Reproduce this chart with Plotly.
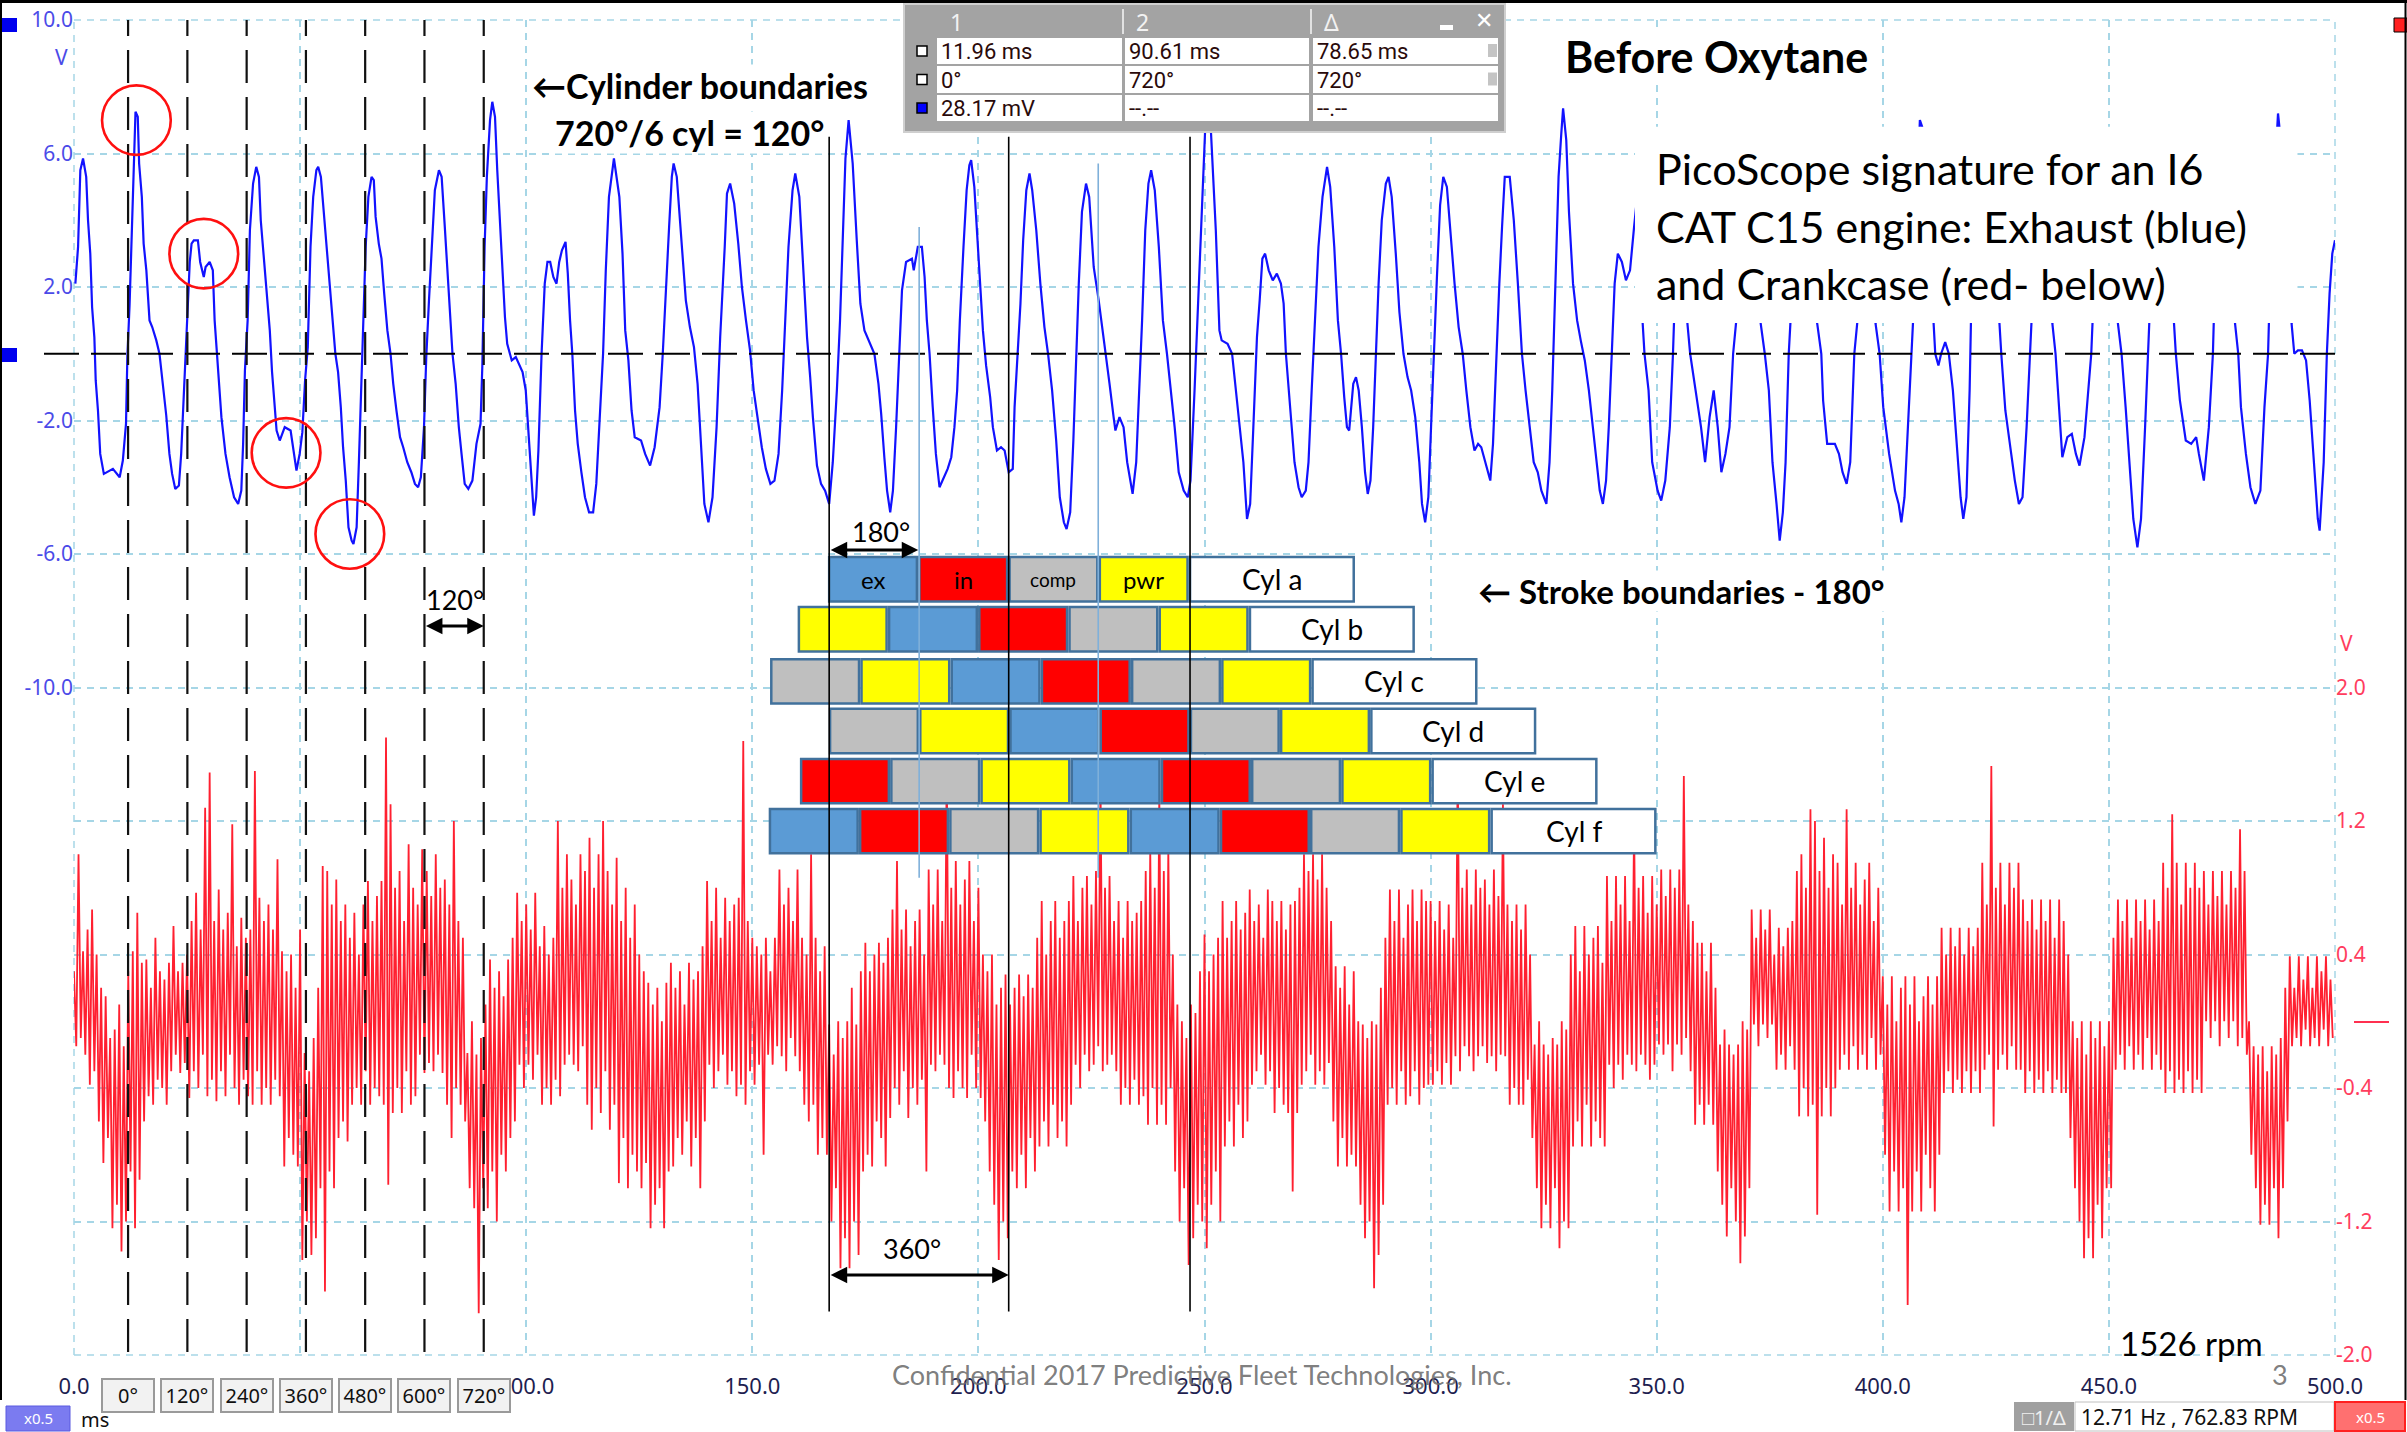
import plotly.graph_objects as go

# ---------------- data ----------------
# Exhaust pressure trace (blue), time in ms, volts on left axis
blue_t = [
    0.3, 0.9, 1.4, 2.0, 2.7, 3.1, 3.6, 4.0, 4.5, 4.8,
    5.3, 5.8, 6.6, 8.6, 10.1, 10.8, 11.5, 11.8, 12.3, 12.8,
    13.2, 13.6, 14.1, 14.4, 15.0, 15.4, 16.0, 16.7, 17.3, 18.2,
    18.9, 19.3, 19.8, 20.4, 21.1, 21.7, 22.4, 23.2, 23.7, 24.3,
    24.7, 25.2, 25.6, 26.0, 26.5, 27.4, 27.9, 28.7, 29.1, 30.0,
    30.7, 31.1, 31.6, 32.2, 32.6, 33.5, 34.4, 35.4, 36.3, 37.0,
    37.4, 37.8, 38.4, 38.9, 39.6, 40.3, 40.9, 41.3, 42.0, 42.7,
    43.3, 43.8, 44.4, 44.8, 45.5, 46.6, 47.9, 48.5, 49.2, 49.9,
    50.5, 51.1, 51.7, 52.3, 52.9, 53.6, 54.0, 54.6, 55.2, 55.8,
    56.4, 57.1, 57.8, 58.4, 59.0, 59.5, 60.1, 60.7, 61.4, 61.8,
    62.5, 63.0, 63.5, 63.9, 64.5, 65.1, 65.8, 66.3, 66.7, 67.4,
    68.0, 68.6, 69.3, 70.0, 70.6, 71.3, 72.1, 72.8, 73.7, 74.6,
    75.4, 76.1, 76.7, 77.4, 77.9, 78.5, 79.1, 79.8, 80.7, 81.3,
    82.0, 82.6, 83.1, 83.7, 84.4, 85.1, 85.7, 86.4, 87.2, 88.1,
    89.0, 89.9, 90.3, 90.8, 91.3, 92.0, 92.5, 93.1, 93.6, 94.2,
    94.8, 95.3, 95.8, 96.4, 96.8, 97.7, 98.6, 99.2, 99.9, 100.6,
    101.2, 101.7, 102.2, 102.7, 103.4, 104.1, 104.7, 105.3, 106.0, 106.7,
    107.3, 107.9, 108.7, 109.2, 109.7, 110.2, 110.8, 111.4, 112.2, 113.0,
    113.9, 114.8, 115.5, 116.1, 117.0, 117.6, 118.3, 119.4, 120.6, 121.3,
    121.9, 122.6, 123.3, 124.0, 125.4, 126.3, 127.4, 128.4, 129.5, 130.2,
    130.9, 131.6, 132.2, 132.6, 133.3, 133.7, 134.6, 135.3, 136.2, 137.1,
    137.9, 138.8, 139.4, 140.3, 141.2, 142.1, 142.9, 143.9, 144.4, 145.1,
    146.0, 146.9, 147.7, 148.6, 149.5, 150.3, 151.2, 152.1, 153.0, 154.0,
    154.9, 155.8, 156.6, 157.3, 158.0, 158.9, 159.5, 160.4, 161.3, 162.1,
    162.8, 163.4, 164.3, 165.2, 166.1, 167.0, 167.8, 168.7, 169.4, 170.0,
    170.6, 171.3, 172.2, 173.1, 173.9, 174.8, 176.1, 177.0, 177.9, 178.5,
    179.2, 179.8, 180.5, 181.1, 181.8, 182.5, 183.1, 184.0, 185.3, 185.7,
    186.6, 187.5, 188.1, 188.6, 189.2, 189.9, 190.6, 191.4, 192.3, 193.2,
    194.0, 194.7, 195.3, 195.9, 196.7, 197.4, 198.0, 198.4, 199.1, 199.7,
    200.3, 201.0, 201.7, 202.6, 203.2, 204.1, 205.0, 205.8, 206.7, 207.6,
    208.0, 208.7, 209.3, 209.9, 210.6, 211.3, 211.9, 212.8, 213.7, 214.6,
    215.4, 216.3, 217.2, 218.0, 218.9, 219.5, 220.3, 221.0, 221.6, 222.2,
    222.9, 223.8, 224.5, 225.5, 226.6, 227.5, 228.1, 229.0, 229.9, 230.3,
    231.2, 232.1, 232.9, 234.1, 234.9, 235.6, 236.2, 236.9, 237.6, 238.2,
    239.0, 239.9, 240.8, 241.7, 242.6, 243.4, 244.3, 245.4, 246.3, 246.9,
    247.8, 248.7, 249.6, 250.2, 250.7, 251.3, 252.5, 253.3, 253.8, 255.1,
    256.1, 256.8, 257.7, 258.6, 259.4, 260.1, 260.8, 261.6, 262.2, 262.8,
    263.4, 264.2, 265.1, 266.0, 266.9, 267.5, 268.0, 268.6, 269.2, 269.9,
    270.8, 271.5, 272.4, 273.0, 273.7, 274.5, 275.2, 276.1, 276.8, 277.1,
    277.8, 278.7, 279.5, 280.2, 280.9, 281.5, 282.0, 282.9, 283.5, 284.1,
    284.8, 285.5, 286.1, 286.7, 287.3, 287.9, 288.5, 289.2, 290.1, 290.7,
    291.4, 292.3, 293.1, 294.0, 294.9, 295.7, 296.6, 297.5, 298.1, 298.8,
    299.5, 300.1, 300.7, 301.4, 302.1, 302.8, 303.6, 304.4, 305.3, 306.2,
    307.1, 307.9, 308.8, 309.7, 310.5, 311.2, 312.1, 313.2, 313.8, 314.5,
    315.2, 315.8, 316.4, 317.5, 318.4, 319.3, 320.2, 321.0, 321.9, 322.8,
    323.7, 324.5, 325.6, 326.3, 326.9, 327.6, 328.3, 328.9, 329.3, 330.0,
    330.6, 331.5, 332.4, 333.2, 334.1, 335.0, 335.9, 336.8, 337.4, 338.1,
    338.8, 339.4, 340.0, 340.7, 341.4, 342.3, 343.2, 344.1, 345.0, 345.6,
    346.2, 346.8, 347.3, 348.2, 349.0, 350.2, 351.0, 351.9, 352.9, 353.6,
    354.2, 355.0, 355.6, 356.4, 357.4, 358.6, 359.8, 360.7, 361.7, 362.6,
    363.5, 364.3, 365.2, 366.1, 366.9, 367.6, 368.5, 369.3, 370.2, 371.2,
    372.2, 373.0, 373.9, 374.8, 375.6, 376.5, 377.2, 377.9, 378.5, 379.2,
    379.6, 380.4, 381.3, 382.0, 382.8, 383.8, 384.8, 385.5, 386.4, 386.8,
    387.7, 389.4, 390.3, 391.1, 392.0, 392.8, 393.7, 394.4, 395.2, 396.0,
    396.8, 397.6, 398.4, 399.3, 400.1, 401.4, 402.7, 403.5, 404.1, 404.8,
    405.6, 406.3, 406.7, 407.4, 408.2, 408.7, 409.3, 410.2, 411.2, 411.6,
    412.3, 412.9, 413.8, 414.6, 415.5, 416.4, 417.2, 417.8, 418.5, 419.2,
    419.5, 420.5, 421.5, 422.4, 423.3, 424.5, 425.8, 426.2, 427.1, 428.4,
    429.2, 430.1, 430.9, 431.8, 432.6, 432.9, 433.8, 434.6, 435.4, 436.3,
    437.5, 438.2, 438.9, 439.7, 440.8, 441.8, 442.7, 443.5, 444.6, 445.5,
    446.1, 446.4, 447.3, 448.2, 449.0, 449.9, 451.0, 452.0, 452.8, 453.7,
    454.7, 455.4, 456.3, 457.1, 458.0, 458.7, 459.0, 459.9, 460.8, 461.7,
    462.6, 463.6, 464.4, 464.8, 465.7, 467.0, 468.2, 469.3, 469.9, 471.0,
    472.1, 473.0, 473.2, 474.1, 475.0, 475.8, 476.7, 477.9, 478.6, 479.2,
    480.3, 481.3, 482.4, 483.5, 484.4, 485.2, 485.4, 486.3, 487.4, 488.3,
    489.2, 490.0, 490.4, 491.0, 491.8, 492.7, 493.6, 494.4, 495.3, 496.2,
    496.6, 497.5, 498.2, 498.8, 499.4, 500.0,
]
blue_v = [
    2.1, 3.2, 5.5, 5.85, 5.3, 4.0, 3.0, 1.4, 0.5, -0.8,
    -1.7, -3.0, -3.6, -3.45, -3.7, -3.2, -2.1, -0.1, 1.5, 4.0,
    5.5, 7.25, 7.1, 5.7, 4.7, 3.3, 2.5, 1.0, 0.8, 0.4,
    0.0, -0.5, -1.3, -1.85, -3.0, -3.6, -4.05, -3.95, -3.0, -1.1,
    0.0, 1.5, 2.75, 3.3, 3.4, 3.4, 2.75, 2.3, 2.6, 2.75,
    2.5, 1.0, 0.0, -0.9, -1.9, -3.0, -3.7, -4.3, -4.5, -4.1,
    -2.7, -0.5, 1.0, 3.7, 5.1, 5.6, 5.3, 4.0, 2.85, 1.8,
    0.7, -0.55, -1.6, -2.3, -2.6, -2.2, -2.3, -2.8, -3.5, -3.0,
    -2.35, -0.8, 0.2, 3.2, 4.7, 5.5, 5.6, 5.3, 4.35, 3.3,
    2.3, 1.25, 0.0, -0.55, -1.6, -2.8, -3.8, -5.2, -5.6, -5.7,
    -5.2, -3.25, -1.1, 0.0, 3.2, 4.7, 5.3, 5.2, 4.1, 3.3,
    2.85, 1.8, 0.7, 0.0, -0.9, -1.7, -2.5, -2.8, -3.25, -3.55,
    -3.9, -4.0, -3.7, -2.2, -0.1, 1.6, 3.0, 4.9, 5.5, 5.3,
    3.8, 2.5, 1.1, 0.0, -0.9, -2.2, -3.0, -3.9, -4.05, -3.8,
    -2.7, -2.1, -0.35, 3.2, 5.3, 7.0, 7.55, 7.1, 5.5, 3.8,
    2.5, 1.1, 0.3, 0.0, -0.2, -0.1, -0.35, -0.55, -1.1, -2.6,
    -3.8, -4.85, -4.3, -2.9, 0.0, 2.1, 2.75, 2.75, 2.3, 2.1,
    2.75, 3.1, 3.35, 2.4, 1.0, 0.0, -1.7, -2.7, -3.55, -4.3,
    -4.75, -4.75, -3.9, -2.2, 0.0, 2.5, 4.7, 5.85, 4.7, 3.0,
    0.7, -0.2, -1.7, -2.5, -2.6, -3.0, -3.35, -2.8, -1.6, 0.0,
    2.1, 3.8, 5.3, 5.7, 5.3, 4.5, 2.75, 1.6, 0.8, 0.2,
    -0.9, -2.9, -4.5, -5.05, -4.3, -2.2, 0.5, 3.2, 4.8, 5.1,
    4.5, 3.3, 2.0, 1.0, 0.1, -1.1, -1.9, -2.8, -3.45, -3.9,
    -3.8, -3.0, -1.1, 1.0, 3.2, 4.9, 5.4, 4.7, 2.5, 0.5,
    -0.7, -1.9, -3.35, -3.9, -4.1, -4.5, -3.25, -1.1, 1.0, 3.8,
    5.85, 7.0, 5.7, 3.4, 1.5, 0.7, 0.3, 0.0, -0.9, -1.8,
    -3.1, -4.1, -4.75, -4.1, -2.2, 0.0, 1.9, 2.75, 2.85, 2.5,
    3.2, 3.2, 2.3, 1.0, 0.0, -1.6, -3.0, -4.0, -3.7, -3.45,
    -3.1, -2.2, -1.1, 1.0, 3.2, 4.9, 5.65, 5.8, 5.0, 3.7,
    2.1, 0.7, -0.35, -1.3, -2.2, -2.9, -2.8, -2.9, -3.55, -3.45,
    -1.6, 0.0, 1.5, 3.4, 4.9, 5.4, 4.9, 3.7, 2.1, 0.8,
    0.0, -1.1, -2.6, -4.3, -5.05, -5.25, -4.75, -2.6, 0.0, 2.1,
    4.25, 5.1, 4.7, 2.6, 1.6, 0.7, 0.0, -0.9, -1.9, -2.3,
    -1.9, -2.2, -3.25, -4.2, -3.25, -1.1, 1.0, 3.7, 5.1, 5.5,
    4.9, 3.2, 1.0, 0.0, -1.1, -2.2, -3.55, -4.1, -4.3, -3.8,
    -1.1, 2.1, 4.8, 6.9, 7.8, 7.0, 3.7, 0.7, 0.4, 0.3,
    0.0, -0.9, -2.2, -3.25, -4.95, -4.5, -2.2, 0.5, 1.6, 2.85,
    3.0, 2.5, 2.2, 2.4, 2.1, 1.5, 0.0, -1.1, -2.2, -3.25,
    -4.0, -4.3, -4.1, -3.25, -1.1, 1.0, 3.2, 4.7, 5.3, 5.6,
    5.0, 3.2, 1.0, 0.0, -1.3, -2.2, -2.3, -0.9, -0.7, -1.1,
    -2.2, -3.55, -4.2, -3.8, -2.2, 0.0, 2.1, 4.0, 5.1, 5.3,
    4.7, 3.0, 1.25, 0.0, -0.7, -1.1, -1.9, -3.25, -4.5, -5.05,
    -4.3, -2.2, 0.0, 2.3, 4.45, 5.3, 5.0, 3.6, 2.1, 0.8,
    0.0, -1.1, -2.2, -2.9, -2.7, -2.8, -3.25, -3.8, -2.7, 0.0,
    2.1, 3.8, 5.3, 5.3, 4.0, 2.1, 0.0, -1.1, -2.2, -3.25,
    -3.55, -4.1, -4.5, -3.25, -1.1, 2.1, 5.3, 6.6, 7.35, 6.4,
    4.25, 2.1, 1.0, 0.4, -0.2, -1.1, -2.2, -3.25, -4.1, -4.5,
    -3.8, -2.2, 0.0, 2.1, 3.0, 2.75, 2.2, 2.5, 3.8, 4.6,
    2.5, 0.9, 0.0, -1.1, -3.25, -4.1, -4.4, -3.8, -2.2, 0.0,
    2.5, 4.5, 4.0, 1.5, 0.0, -1.1, -2.2, -3.25, -1.9, -1.1,
    -2.2, -3.55, -3.0, -2.2, 0.0, 1.0, 4.0, 5.5, 5.3, 3.5,
    1.8, 0.9, 0.0, -1.1, -3.25, -4.5, -5.6, -4.75, -3.25, 0.0,
    1.0, 3.8, 5.6, 5.7, 4.5, 2.5, 1.3, 0.9, 0.0, -1.4,
    -2.7, -2.7, -3.0, -3.55, -3.9, -3.25, 0.0, 1.0, 3.5, 5.2,
    5.0, 3.0, 0.9, 0.0, -1.6, -3.0, -4.1, -4.5, -5.05, -4.3,
    -2.2, 0.0, 1.0, 4.0, 7.0, 6.8, 6.0, 3.5, 0.9, 0.0,
    -0.35, 0.0, 0.35, 0.0, -1.1, -2.7, -4.3, -4.95, -4.3, -1.1,
    1.0, 3.8, 5.4, 5.6, 4.5, 2.5, 0.9, 0.0, -1.7, -3.0,
    -3.8, -4.5, -4.3, -2.2, 0.0, 1.0, 4.0, 5.4, 5.5, 3.5,
    0.9, 0.0, -1.4, -3.1, -2.5, -2.4, -3.0, -3.35, -2.5, -1.1,
    0.0, 1.0, 4.0, 5.5, 5.6, 4.0, 2.0, 0.9, 0.0, -1.6,
    -3.55, -4.95, -5.8, -4.95, -2.2, 0.0, 1.0, 4.2, 5.5, 5.3,
    3.5, 1.8, 0.9, 0.0, -1.4, -2.6, -2.7, -2.5, -3.0, -3.8,
    -2.2, 0.0, 1.0, 4.0, 5.5, 5.6, 3.8, 0.9, 0.0, -1.6,
    -3.0, -4.0, -4.5, -4.1, -1.6, 0.0, 1.0, 4.5, 7.2, 6.0,
    3.5, 1.5, 0.9, 0.0, 0.1, 0.1, -0.2, -1.4, -3.25, -4.95,
    -5.3, -3.25, 0.0, 1.8, 3.0, 3.4,
]

# Crankcase pressure trace (red), right axis volts: per-ms upper / lower excursions
red_t0_ms = 0.0
red_step_ms = 1.0
red_hi = [
    0.30, 1.00, 0.42, 0.55, 0.67, 0.40, 0.20, 0.15, -0.10, -0.05,
    0.10, -0.15, 0.30, 0.42, 0.65, 0.35, 0.37, 0.20, 0.50, 0.30,
    0.25, 0.35, 0.57, 0.30, 0.35, 0.40, 0.60, 0.77, 0.55, 1.28,
    1.49, 0.60, 0.79, 0.55, 0.65, 1.18, 0.45, 0.62, 0.50, 0.55,
    1.50, 0.74, 0.60, 0.70, 0.55, 0.97, 0.42, 0.30, 0.40, 0.20,
    0.55, -0.19, -0.30, -0.10, 0.20, 0.93, 0.90, 0.70, 0.85, 0.60,
    0.70, 0.50, 0.65, 0.40, 0.70, 0.84, 0.60, 0.75, 0.84, 1.70,
    1.30, 0.80, 0.90, 0.60, 1.06, 0.80, 0.70, 1.03, 0.90, 0.75,
    1.00, 0.80, 0.85, 0.70, 1.20, 0.60, 0.50, -0.19, 0.00, -0.20,
    -0.10, 0.10, 0.37, 0.20, 0.30, 0.15, 0.37, 0.50, 0.77, 0.60,
    0.70, 0.55, 0.77, 0.45, 0.57, 0.40, 0.50, 1.20, 0.80, 1.00,
    0.85, 0.70, 1.00, 0.90, 1.10, 0.80, 1.00, 1.20, 0.90, 0.70,
    0.98, 0.60, 0.80, 0.50, 0.70, 0.40, 0.30, 0.23, 0.10, 0.20,
    0.00, 0.23, 0.35, 0.20, 0.30, 0.10, 0.35, 0.25, 0.30, 0.45,
    0.84, 0.60, 0.80, 0.50, 0.74, 0.60, 0.70, 0.74, 1.68, 0.60,
    0.50, 0.45, 0.40, 0.50, 0.30, 0.50, 0.91, 0.70, 0.80, 0.60,
    0.91, 0.50, 0.40, 1.00, 0.50, 0.30, 0.45, -0.02, -0.20, 0.00,
    -0.10, 0.00, 0.20, -0.02, 0.30, 0.47, 0.30, 0.40, 0.47, 0.35,
    0.50, 0.67, 0.96, 0.55, 0.67, 0.45, 0.60, 0.67, 0.40, 0.91,
    0.70, 0.91, 0.60, 1.57, 0.80, 0.96, 0.70, 0.85, 0.96, 0.60,
    0.80, 0.40, 0.30, 0.40, 0.10, 0.20, 0.28, 0.10, 0.20, 0.28,
    0.15, 0.28, 0.20, 0.50, 0.72, 0.40, 0.60, 0.72, 0.50, 0.60,
    0.72, 0.87, 0.60, 0.80, 0.87, 0.70, 0.90, 1.45, 0.80, 0.87,
    0.60, 0.72, 0.50, 0.72, 0.60, 0.65, 0.72, 0.90, 1.03, 0.80,
    1.38, 0.90, 1.03, 0.40, 0.10, 0.00, -0.10, 0.10, 0.05, 0.30,
    0.52, 0.30, 0.40, 0.50, 0.72, 0.50, 0.60, 0.72, 0.55, 0.65,
    0.79, 0.60, 0.70, 0.50, 0.79, 0.72, 0.60, 0.72, 0.55, 0.70,
    0.72, 0.80, 1.00, 0.90, 1.00, 0.85, 1.00, 0.80, 0.60, 0.33,
    0.20, 0.33, 0.10, 0.30, 0.00, -0.02, -0.10, 0.00, -0.02, 0.20,
    0.50, 0.79, 0.60, 0.79, 0.50, 0.70, 0.79, 0.60, 0.79, 0.72,
    0.72, 0.60, 0.72, 0.55, 0.70, 0.50, 1.56, 0.80, 0.91, 0.70,
    0.91, 0.80, 0.85, 0.70, 0.91, 0.75, 1.30, 0.70, 0.60, 0.70,
    0.55, 0.70, 0.40, -0.14, 0.00, -0.14, -0.20, -0.10, -0.14, 0.00,
    -0.05, 0.40, 0.57, 0.30, 0.57, 0.40, 0.50, 0.57, 0.35, 0.87,
    0.60, 0.87, 0.70, 0.87, 0.60, 1.20, 0.80, 0.87, 0.65, 0.87,
    0.70, 0.91, 0.75, 0.91, 0.80, 0.91, 1.47, 0.70, 0.60, 0.47,
    0.47, 0.30, 0.47, 0.20, -0.14, -0.05, -0.14, -0.20, -0.14, 0.00,
    -0.05, 0.67, 0.50, 0.67, 0.55, 0.67, 0.40, 0.56, 0.45, 0.56,
    0.60, 0.90, 1.00, 0.80, 1.27, 1.20, 0.90, 1.10, 0.80, 1.00,
    0.95, 0.70, 1.27, 0.80, 0.95, 0.70, 0.85, 0.95, 0.60, 0.80,
    0.27, 0.10, 0.27, 0.00, 0.20, 0.27, 0.10, 0.27, 0.00, 0.15,
    0.27, 0.10, 0.27, 0.56, 0.40, 0.56, 0.45, 0.56, 0.40, 0.56,
    0.45, 0.56, 0.95, 0.70, 1.53, 0.80, 0.95, 0.70, 0.95, 0.80,
    0.95, 0.73, 0.60, 0.73, 0.55, 0.73, 0.60, 0.73, 0.50, 0.73,
    0.60, 0.40, 0.00, -0.10, 0.00, -0.20, 0.00, -0.10, 0.00, -0.15,
    0.00, 0.50, 0.73, 0.60, 0.73, 0.50, 0.73, 0.60, 0.73, 0.55,
    0.73, 0.60, 0.95, 0.80, 1.24, 0.95, 0.70, 0.95, 0.80, 0.95,
    0.80, 0.90, 0.70, 0.90, 0.75, 0.90, 0.70, 0.90, 0.80, 1.15,
    0.90, 0.00, -0.15, -0.20, -0.15, -0.30, -0.15, -0.20, -0.10, 0.20,
    0.39, 0.20, 0.39, 0.25, 0.39, 0.20, 0.39, 0.30, 0.39, 0.25,
]
red_lo = [
    -0.15, -0.10, -0.20, -0.38, -0.30, -0.60, -0.85, -0.70, -1.24, -1.10,
    -1.38, -1.20, -0.90, -1.24, -0.95, -0.60, -0.45, -0.50, -0.35, -0.40,
    -0.50, -0.30, -0.20, -0.31, -0.25, -0.46, -0.30, -0.40, -0.20, -0.45,
    -0.35, -0.48, -0.30, -0.45, -0.20, -0.40, -0.50, -0.35, -0.45, -0.50,
    -0.30, -0.50, -0.40, -0.50, -0.35, -0.45, -0.87, -0.70, -0.80, -0.87,
    -1.43, -1.20, -1.40, -1.30, -1.00, -1.62, -0.90, -1.00, -0.70, -0.60,
    -0.72, -0.50, -0.40, -0.50, -0.30, -0.50, -0.40, -0.45, -0.50, -0.98,
    -0.55, -0.40, -0.55, -0.30, -0.50, -0.45, -0.20, -0.31, -0.25, -0.30,
    -0.20, -0.31, -0.50, -0.70, -0.40, -0.50, -0.60, -1.00, -1.12, -1.75,
    -1.00, -1.12, -0.90, -1.20, -0.80, -0.90, -0.70, -0.60, -0.26, -0.40,
    -0.26, -0.35, -0.20, -0.50, -0.40, -0.50, -0.35, -0.45, -0.26, -0.20,
    -0.26, -0.30, -0.15, -0.50, -0.65, -0.40, -0.55, -0.30, -0.65, -0.50,
    -0.97, -0.70, -1.00, -0.80, -0.90, -1.00, -0.85, -1.24, -1.10, -1.00,
    -1.24, -0.90, -0.87, -0.70, -0.80, -0.60, -0.87, -0.70, -1.00, -0.60,
    -0.26, -0.40, -0.30, -0.20, -0.38, -0.30, -0.45, -0.38, -0.50, -0.30,
    -0.38, -0.26, -0.80, -0.20, -0.26, -0.15, -0.21, -0.30, -0.10, -0.21,
    -0.30, -0.50, -0.60, -0.50, -0.80, -0.70, -0.80, -1.20, -1.00, -1.48,
    -1.30, -1.48, -1.20, -1.40, -0.90, -0.80, -0.87, -0.60, -0.70, -0.87,
    -0.58, -0.40, -0.50, -0.30, -0.58, -0.40, -0.50, -0.35, -0.90, -0.26,
    -0.30, -0.20, -0.26, -0.40, -0.46, -0.30, -0.40, -0.46, -0.20, -0.40,
    -0.46, -0.60, -0.90, -1.10, -1.43, -1.20, -1.30, -0.90, -1.00, -0.80,
    -1.00, -0.70, -0.90, -0.75, -0.60, -0.75, -0.50, -0.70, -0.60, -0.75,
    -0.50, -0.26, -0.40, -0.20, -0.30, -0.26, -0.15, -0.30, -0.26, -0.20,
    -0.30, -0.50, -0.40, -0.50, -0.35, -0.50, -0.45, -0.62, -0.40, -0.62,
    -0.50, -0.62, -0.40, -0.90, -1.20, -1.00, -1.46, -1.30, -1.10, -1.20,
    -1.36, -1.10, -0.90, -1.20, -0.75, -0.60, -0.75, -0.50, -0.70, -0.60,
    -0.38, -0.30, -0.20, -0.38, -0.30, -0.55, -0.40, -0.50, -0.55, -1.02,
    -0.55, -0.38, -0.30, -0.20, -0.38, -0.30, -0.38, -0.25, -0.60, -0.87,
    -0.70, -0.87, -0.80, -0.87, -1.10, -1.30, -1.20, -1.60, -1.40, -1.10,
    -0.50, -0.40, -0.50, -0.30, -0.50, -0.45, -0.30, -0.50, -0.40, -0.38,
    -0.38, -0.30, -0.38, -0.25, -0.38, -0.21, -0.30, -0.15, -0.21, -0.30,
    -0.21, -0.15, -0.25, -0.21, -0.30, -0.20, -0.21, -0.50, -0.40, -0.50,
    -0.50, -0.35, -0.70, -1.00, -1.24, -1.10, -1.24, -1.00, -1.36, -1.20,
    -1.24, -0.75, -0.60, -0.75, -0.50, -0.75, -0.60, -0.70, -0.75, -0.26,
    -0.40, -0.26, -0.35, -0.20, -0.26, -0.30, -0.20, -0.26, -0.35, -0.26,
    -0.14, -0.20, -0.14, -0.30, -0.14, -0.20, -0.10, -0.30, -0.62, -0.50,
    -0.62, -0.50, -0.62, -0.90, -1.10, -1.29, -1.00, -1.20, -1.45, -1.29,
    -1.00, -0.02, -0.15, -0.02, -0.10, -0.02, -0.29, -0.20, -0.29, -0.15,
    -0.29, -0.57, -0.40, -0.57, -0.50, -1.16, -0.57, -0.40, -0.57, -0.40,
    -0.29, -0.20, -0.29, -0.15, -0.29, -0.20, -0.29, -0.10, -0.29, -0.20,
    -0.80, -1.14, -0.90, -1.14, -1.00, -1.70, -1.14, -0.90, -1.14, -0.80,
    -1.00, -1.14, -0.80, -0.43, -0.30, -0.43, -0.35, -0.43, -0.30, -0.43,
    -0.30, -0.43, -0.29, -0.20, -0.63, -0.29, -0.20, -0.29, -0.15, -0.29,
    -0.29, -0.43, -0.30, -0.43, -0.35, -0.43, -0.30, -0.43, -0.35, -0.43,
    -0.43, -0.70, -1.00, -1.20, -1.42, -1.30, -1.42, -1.10, -1.30, -1.00,
    -1.00, -0.29, -0.20, -0.29, -0.15, -0.29, -0.20, -0.29, -0.10, -0.29,
    -0.20, -0.29, -0.43, -0.30, -0.43, -0.35, -0.43, -0.30, -0.43, -0.35,
    -0.43, 0.00, -0.10, 0.00, -0.15, 0.00, -0.10, 0.00, -0.15, -0.10,
    -0.20, -0.80, -1.00, -1.22, -1.10, -1.22, -1.00, -1.30, -1.00, -0.60,
    -0.15, -0.10, -0.15, -0.05, -0.15, -0.10, -0.15, -0.05, -0.15, -0.10,
]

x_tick_ms = [0, 50, 100, 150, 200, 250, 300, 350, 400, 450, 500]
x_tick_txt = ['0.0', '50.0', '100.0', '150.0', '200.0', '250.0', '300.0', '350.0', '400.0', '450.0', '500.0']
left_tick_v = [10, 6, 2, -2, -6, -10, -14, -18, -22, -26, -30]
left_tick_txt = ['10.0', '6.0', '2.0', '-2.0', '-6.0', '-10.0', '', '', '', '', '']
right_tick_v = [2.0, 1.2, 0.4, -0.4, -1.2, -2.0]
right_tick_txt = ['2.0', '1.2', '0.4', '-0.4', '-1.2', '-2.0']

cyl_boundary_ms = [11.96, 25.07, 38.18, 51.29, 64.39, 77.50, 90.61]
cyl_boundary_deg = ['0°', '120°', '240°', '360°', '480°', '600°', '720°']
crank_360_ms = [167.0, 206.7, 246.8]
crank_180_ms = [186.9, 226.5]

cyl_names = ['Cyl a', 'Cyl b', 'Cyl c', 'Cyl d', 'Cyl e', 'Cyl f']
cyl_start_ms = [167.0, 160.3, 154.2, 167.2, 160.8, 153.9]
cyl_row_top_v = [-6.09, -7.59, -9.15, -10.64, -12.14, -13.64]
cyl_strokes = [
    ['ex', 'in', 'comp', 'pwr'],
    ['pwr', 'ex', 'in', 'comp', 'pwr'],
    ['comp', 'pwr', 'ex', 'in', 'comp', 'pwr'],
    ['comp', 'pwr', 'ex', 'in', 'comp', 'pwr'],
    ['in', 'comp', 'pwr', 'ex', 'in', 'comp', 'pwr'],
    ['ex', 'in', 'comp', 'pwr', 'ex', 'in', 'comp', 'pwr'],
]
stroke_colors = {'ex': '#5B9BD5', 'in': '#FF0000', 'comp': '#BFBFBF', 'pwr': '#FFFF00'}
stroke_pitch_ms = 19.95
stroke_box_ms = 19.4
label_box_ms = 36.2
row_h_v = 1.33

circle_ms = [13.8, 28.7, 46.9, 61.0]
circle_v = [7.0, 3.0, -2.97, -5.4]

cursor_header = ['1', '2', 'Δ']
cursor_rows = [['11.96 ms', '90.61 ms', '78.65 ms'],
               ['0°', '720°', '720°'],
               ['28.17 mV', '--.--', '--.--']]

# ---------------- figure geometry ----------------
W, H = 2407, 1432
ML, MR, MT, MB = 74, 72, 20, 77
PW = W - ML - MR
PH = H - MT - MB


def PX(x):
    return (x - ML) / PW


def PY(y):
    return 1 - (y - MT) / PH


SLIDE = 'Lato'
UI = 'Noto Sans'
GRID = '#A6D6E6'

fig = go.Figure()

red_x, red_y = [], []
for i in range(len(red_hi)):
    t = red_t0_ms + i * red_step_ms
    red_x += [t, t + red_step_ms / 2]
    red_y += [red_hi[i], red_lo[i]]

fig.add_trace(go.Scatter(x=red_x, y=red_y, yaxis='y2', mode='lines',
                         line=dict(color='#FF2030', width=1.8), hoverinfo='skip'))
fig.add_trace(go.Scatter(x=blue_t, y=blue_v, mode='lines',
                         line=dict(color='#1212FF', width=2.2), hoverinfo='skip'))
fig.add_trace(go.Scatter(x=[cyl_boundary_ms[0], cyl_boundary_ms[-1]], y=[-30.1, -30.1], mode='markers',
                         marker=dict(symbol='circle-open', size=15, color='black', line=dict(width=3, color='black')),
                         cliponaxis=False, hoverinfo='skip'))

shapes = []
# plot-edge grid lines
for (x0, x1, y0, y1) in [(0, 0, 0, 1), (1, 1, 0, 1), (0, 1, 0, 0), (0, 1, 1, 1)]:
    shapes.append(dict(type='line', xref='paper', yref='paper', x0=x0, x1=x1, y0=y0, y1=y1,
                       line=dict(color=GRID, width=1.5, dash='7px,6px'), layer='below'))

# blue zero reference line
shapes.append(dict(type='line', xref='paper', yref='y', x0=PX(44), x1=1, y0=0, y1=0,
                   line=dict(color='black', width=2, dash='35px,12px'), layer='above'))

# white box behind description text
shapes.append(dict(type='rect', xref='x', yref='y', x0=345.2, x1=491.7, y0=0.92, y1=6.8,
                   fillcolor='white', line=dict(width=0), layer='above'))

# stroke boxes
annotations = []
for r, name in enumerate(cyl_names):
    x = cyl_start_ms[r]
    top = cyl_row_top_v[r]
    bot = top - row_h_v
    for s in cyl_strokes[r]:
        shapes.append(dict(type='rect', xref='x', yref='y', x0=x, x1=x + stroke_box_ms, y0=bot, y1=top,
                           fillcolor=stroke_colors[s], line=dict(color='#41719C', width=2.5), layer='above'))
        if r == 0:
            annotations.append(dict(x=x + stroke_box_ms / 2, y=(top + bot) / 2, xref='x', yref='y',
                                    text=s, showarrow=False,
                                    font=dict(family=SLIDE, size=19 if s == 'comp' else 24, color='black')))
        x += stroke_pitch_ms
    shapes.append(dict(type='rect', xref='x', yref='y', x0=x, x1=x + label_box_ms, y0=bot, y1=top,
                       fillcolor='white', line=dict(color='#41719C', width=2.5), layer='above'))
    annotations.append(dict(x=x + label_box_ms / 2, y=(top + bot) / 2, xref='x', yref='y', text=name,
                            showarrow=False, font=dict(family=SLIDE, size=28, color='black')))

# cylinder boundary dashed lines
for t in cyl_boundary_ms:
    shapes.append(dict(type='line', xref='x', yref='paper', x0=t, x1=t, y0=PY(1352), y1=1,
                       line=dict(color='#111111', width=2.2, dash='33px,14px'), layer='above'))
# crank angle lines
for t in crank_360_ms:
    shapes.append(dict(type='line', xref='x', yref='y', x0=t, x1=t, y0=-28.7, y1=6.5,
                       line=dict(color='black', width=1.6), layer='above'))
for t, ytop in zip(crank_180_ms, [3.8, 5.7]):
    shapes.append(dict(type='line', xref='x', yref='y', x0=t, x1=t, y0=-15.7, y1=ytop,
                       line=dict(color='#7FB0DA', width=1.6), layer='above'))

# red circles
for t, v in zip(circle_ms, circle_v):
    shapes.append(dict(type='circle', xref='x', yref='y', x0=t - 7.6, x1=t + 7.6, y0=v - 1.04, y1=v + 1.04,
                       line=dict(color='#FF1010', width=2.6), layer='above'))


def rect_px(x0, y0, x1, y1, fill, line=None, lw=0):
    shapes.append(dict(type='rect', xref='paper', yref='paper', x0=PX(x0), x1=PX(x1), y0=PY(y1), y1=PY(y0),
                       fillcolor=fill, line=dict(color=line or fill, width=lw), layer='above'))


def line_px(x0, y0, x1, y1, color, lw):
    shapes.append(dict(type='line', xref='paper', yref='paper', x0=PX(x0), x1=PX(x1), y0=PY(y0), y1=PY(y1),
                       line=dict(color=color, width=lw), layer='above'))


def txt(x, y, s, size, color='black', family=SLIDE, xanchor='center', bg=None, bold=False):
    annotations.append(dict(x=PX(x), y=PY(y), xref='paper', yref='paper',
                            text=('<b>%s</b>' % s) if bold else s, showarrow=False,
                            xanchor=xanchor, yanchor='middle', bgcolor=bg, borderpad=0,
                            font=dict(family=family, size=size, color=color)))


# cursor table
rect_px(904, 4, 1505, 132, '#A3A3A3', '#CFCFCF', 2)
cols = [(937, 1122), (1125, 1309), (1313, 1498)]
rows = [(38, 64), (66, 93), (95, 121)]
for (ry0, ry1) in rows:
    for (cx0, cx1) in cols:
        rect_px(cx0, ry0, cx1, ry1, 'white')
for xs in [1123, 1311]:
    line_px(xs, 9, xs, 34, '#E2E2E2', 2)
for k, (ry0, ry1) in enumerate(rows):
    cy = (ry0 + ry1) / 2
    rect_px(917, cy - 5, 927, cy + 5, '#0000FF' if k == 2 else 'white', 'black', 1.5)
rect_px(1440, 25, 1453, 30, 'white')
for (ry0, ry1) in rows[:2]:
    cy = (ry0 + ry1) / 2
    rect_px(1488, cy - 7, 1497, cy + 6, '#C4C4C4')
for k, hx in enumerate([949, 1135, 1323]):
    txt(hx, 22, cursor_header[k], 23, '#F2F2F2', UI, 'left')
txt(1484, 20, '✕', 22, 'white', 'DejaVu Sans')
for r, (ry0, ry1) in enumerate(rows):
    for c, (cx0, cx1) in enumerate(cols):
        txt(cx0 + 3, (ry0 + ry1) / 2 + 1, cursor_rows[r][c], 22, '#2A0A0A', 'Roboto', 'left')

# left / right channel markers and frame
rect_px(2, 18, 17, 32, '#0000EE')
rect_px(2, 348, 17, 362, '#0000EE')
rect_px(2394, 18, 2407, 32, '#FF2020', 'black', 1)
line_px(2354, 1022, 2389, 1022, '#FF3050', 2)
line_px(0, 1.5, W, 1.5, 'black', 3)
line_px(1, 0, 1, 1400, 'black', 2)
line_px(2405.5, 0, 2405.5, 1400, 'black', 2)

# bottom status boxes
rect_px(6, 1406, 70, 1431, '#7B7BF0', '#5A5AE0', 1)
txt(38, 1418, 'x0.5', 15, 'white', UI)
txt(80, 1420, 'ms', 20, '#101010', UI, 'left')
rect_px(2014, 1402, 2074, 1431, '#A0A0A0')
txt(2044, 1417, '□1/Δ', 20, '#F0F0F0', UI)
rect_px(2075, 1402, 2334, 1431, 'white', '#C0C0C0', 1)
txt(2080, 1417, '12.71 Hz , 762.83 RPM', 21, '#101010', UI, 'left')
rect_px(2335, 1402, 2405, 1431, '#FF7070', '#FF2020', 2)
txt(2370, 1417, 'x0.5', 15, 'white', UI)

# degree boxes under the boundary lines
for t, d in zip(cyl_boundary_ms, cyl_boundary_deg):
    annotations.append(dict(x=t, y=PY(1395), xref='x', yref='paper', yanchor='middle', text=d,
                            showarrow=False, width=50, height=31, bgcolor='#F2F2F2', bordercolor='#9A9A9A',
                            borderwidth=2, borderpad=0, font=dict(family=UI, size=20, color='#101010')))

# axis unit labels
txt(61, 57, 'V', 21, '#4B4BE8', UI)
txt(2346, 643, 'V', 21, '#FF3D5E', UI)

# slide texts
txt(700, 86, '←Cylinder boundaries', 34, bold=True, bg='white')
txt(689, 132, '720°/6 cyl = 120°', 34, bold=True, bg='white')
txt(1716, 57, 'Before Oxytane', 43, bold=True, bg='white')
txt(1655, 169, 'PicoScope signature for an I6', 43, xanchor='left')
txt(1655, 226, 'CAT C15 engine: Exhaust (blue)', 43, xanchor='left')
txt(1655, 284, 'and Crankcase (red- below)', 43, xanchor='left')
txt(1477, 591, '← Stroke boundaries - 180°', 33, bold=True, xanchor='left', bg='white')
txt(881, 531, '180°', 27)
txt(455, 599, '120°', 27)
txt(912, 1248, '360°', 27)
txt(2191, 1343, '1526 rpm', 33)
txt(1202, 1374, 'Confidential 2017 Predictive Fleet Technologies, Inc.', 27, 'rgba(110,110,110,0.9)')
txt(2280, 1374, '3', 27, 'rgba(110,110,110,0.9)')

# double-headed arrows
for (xa, xb, yv) in [(167.0, 186.7, -5.88), (77.50, 90.61, -8.16), (167.0, 206.7, -27.6)]:
    annotations.append(dict(x=xb, y=yv, ax=xa, ay=yv, xref='x', yref='y', axref='x', ayref='y',
                            text='', showarrow=True, arrowhead=2, arrowside='end+start',
                            arrowsize=1.1, arrowwidth=3, arrowcolor='black', standoff=0, startstandoff=0))

fig.update_layout(
    width=W, height=H, margin=dict(l=ML, r=MR, t=MT, b=MB, autoexpand=False),
    paper_bgcolor='white', plot_bgcolor='white', showlegend=False, hovermode=False,
    shapes=shapes, annotations=annotations,
    xaxis=dict(range=[0, 500], tickvals=x_tick_ms, ticktext=x_tick_txt, showgrid=True,
               gridcolor=GRID, gridwidth=1.5, griddash='7px,6px', zeroline=False, showline=False,
               ticks='outside', ticklen=12, tickcolor='rgba(0,0,0,0)',
               tickfont=dict(family=UI, size=22, color='#1E1E50'), fixedrange=True),
    yaxis=dict(range=[-30, 10], tickvals=left_tick_v, ticktext=left_tick_txt, showgrid=True,
               gridcolor=GRID, gridwidth=1.5, griddash='7px,6px', zeroline=False, showline=False,
               ticks='', tickfont=dict(family=UI, size=21, color='#4B4BE8'), fixedrange=True),
    yaxis2=dict(range=[-2, 6], overlaying='y', side='right', tickvals=right_tick_v,
                ticktext=right_tick_txt, showgrid=False, zeroline=False, showline=False, ticks='',
                tickfont=dict(family=UI, size=21, color='#FF3D5E'), fixedrange=True),
)

fig.write_html('out.html')
